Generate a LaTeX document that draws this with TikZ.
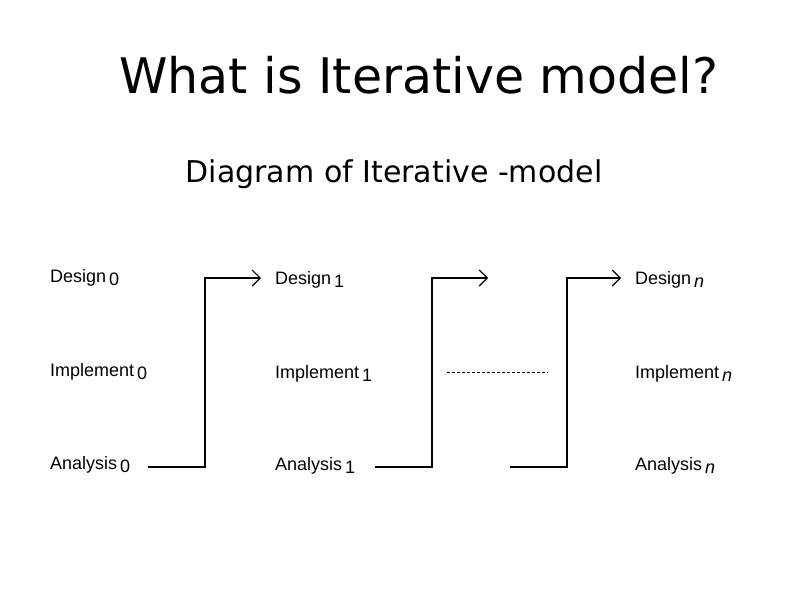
\documentclass[tikz,border=0pt]{standalone}
\usepackage{fontspec}
\setmainfont{DejaVu Sans}
\newfontfamily\lab{Liberation Sans}
\usetikzlibrary{arrows.meta}
\newcommand{\mysub}[1]{\,\raisebox{-3pt}{#1}}
\begin{document}
\begin{tikzpicture}[x=1pt,y=-1pt,
  lbl/.style={anchor=west,inner sep=0pt,font=\lab\fontsize{18}{20}\selectfont},
  conn/.style={line width=1.1pt,-{Straight Barb[length=8pt,width=16pt,line width=1.1pt]}}]
\useasboundingbox (0,0) rectangle (800,600);
\node (title) at (419,75) {\fontsize{49}{56}\selectfont What is Iterative model?};
\node (sub) at (394,174) {\fontsize{30}{34}\selectfont Diagram of Iterative -model};
\node[lbl] (d0) at (50,278) {Design\mysub{0}};
\node[lbl] (i0) at (50,372) {Implement\mysub{0}};
\node[lbl] (a0) at (50,465) {Analysis\mysub{0}};
\node[lbl] (d1) at (275,280) {Design\mysub{1}};
\node[lbl] (i1) at (275,374) {Implement\mysub{1}};
\node[lbl] (a1) at (275,466) {Analysis\mysub{1}};
\node[lbl] (dn) at (635,280) {Design\mysub{\textit{n}}};
\node[lbl] (in) at (635,374) {Implement\mysub{\textit{n}}};
\node[lbl] (an) at (635,466) {Analysis\mysub{\textit{n}}};
\coordinate (s1) at (148,467);
\coordinate (s2) at (375,467);
\coordinate (e2) at (488,278);
\coordinate (s3) at (510,467);
\draw[conn] (s1) -- (205,467) -- (205,278) -- (261,278);
\draw[conn] (s2) -- (432,467) -- (432,278) -- (e2);
\draw[conn] (s3) -- (567,467) -- (567,278) -- (621,278);
\draw[line width=0.5pt,dash pattern=on 3pt off 2pt] (447,372) coordinate (p) -- (548,372) coordinate (q);
\end{tikzpicture}
\end{document}
